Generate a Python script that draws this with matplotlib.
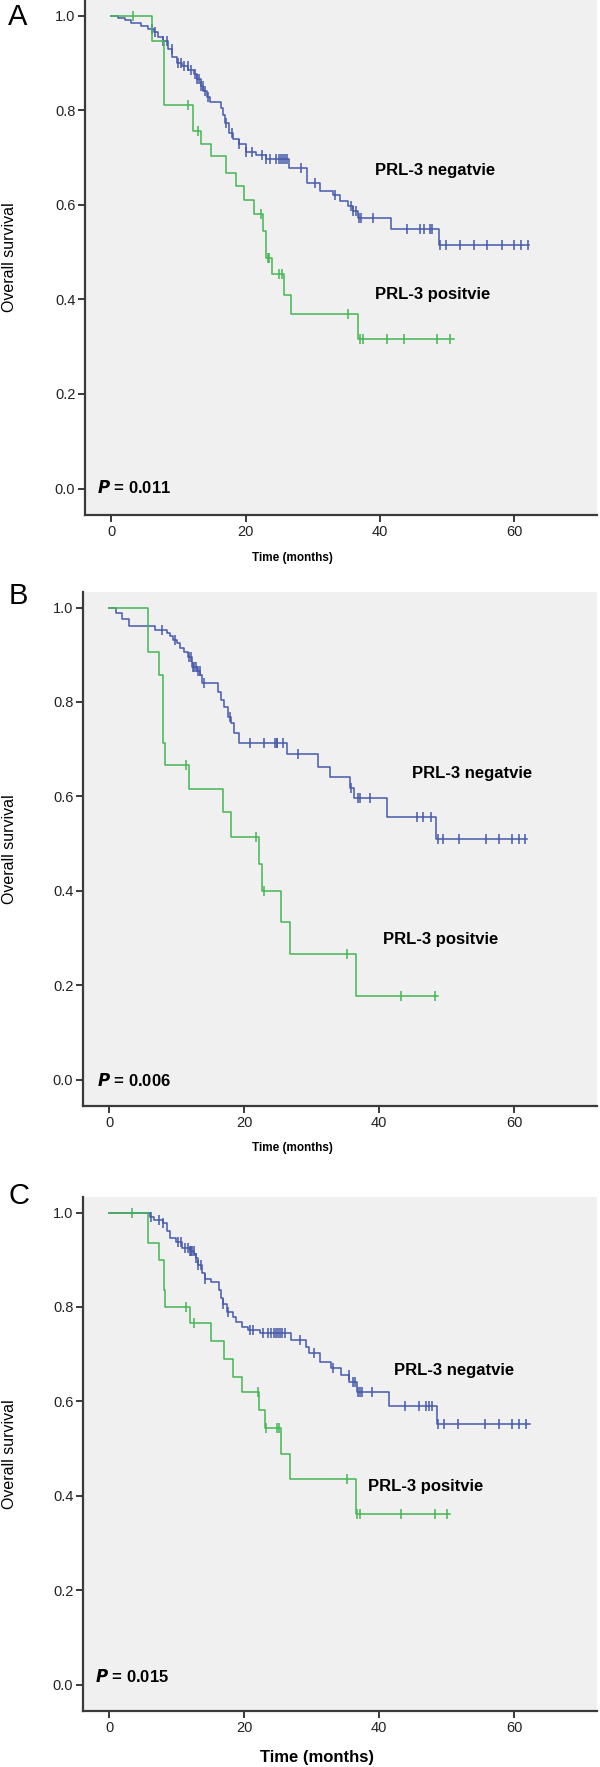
import numpy as np
import matplotlib.pyplot as plt

plt.rcParams['font.family'] = ['Liberation Sans', 'DejaVu Sans']

BLUE = '#4659ab'
GREEN = '#45b653'

# ---- panel A ----
a_neg_t = [1.0, 2.0, 3.0, 4.5, 5.5, 6.3, 7.0, 7.7, 8.4, 9.1, 9.8, 10.6, 11.5, 12.3, 12.8,
           13.3, 13.7, 14.2, 14.7, 16.3, 16.6, 16.9, 17.5, 18.2, 19.0, 20.0, 21.5, 23.0,
           26.5, 29.1, 31.1, 33.0, 34.0, 35.3, 36.0, 36.7, 41.6, 48.8]
a_neg_s = [0.995, 0.99, 0.985, 0.979, 0.972, 0.965, 0.955, 0.947, 0.93, 0.912, 0.9, 0.893,
           0.885, 0.877, 0.865, 0.852, 0.84, 0.828, 0.818, 0.805, 0.79, 0.772, 0.752, 0.74,
           0.729, 0.712, 0.705, 0.697, 0.677, 0.646, 0.629, 0.62, 0.608, 0.598, 0.587, 0.572,
           0.549, 0.515]
a_neg_end = 62.2
a_neg_cens = [6.0, 6.5, 7.7, 8.3, 9.0, 9.9, 10.4, 10.9, 11.4, 11.9, 12.4, 12.8, 13.0, 13.3,
              13.6, 14.0, 14.4, 17.1, 18.0, 19.0, 20.0, 21.0, 22.4, 23.0, 23.7, 24.5, 24.9,
              25.2, 25.5, 25.8, 26.1, 28.2, 30.4, 33.3, 35.7, 36.0, 36.4, 36.9, 37.2, 38.9,
              44.0, 46.0, 46.6, 47.5, 47.8, 49.0, 49.9, 51.9, 54.0, 55.9, 58.1, 60.0, 61.0, 62.0]
a_pos_t = [6.0, 7.8, 12.1, 13.4, 14.9, 17.1, 18.6, 19.8, 21.2, 22.6, 23.0, 23.9, 25.7, 26.8, 36.7]
a_pos_s = [0.947, 0.811, 0.756, 0.729, 0.703, 0.667, 0.64, 0.61, 0.58, 0.545, 0.488, 0.453,
           0.41, 0.368, 0.316]
a_pos_end = 51.0
a_pos_cens = [3.2, 11.4, 12.9, 22.3, 23.3, 23.5, 24.9, 25.4, 35.3, 37.0, 37.5, 41.1, 43.6,
              48.5, 50.4]

# ---- panel B ----
b_neg_t = [1.0, 1.9, 2.9, 6.8, 8.6, 9.0, 9.5, 10.0, 10.5, 11.0, 11.6, 12.3, 13.0, 13.5, 13.8,
           16.1, 16.5, 17.0, 17.6, 18.0, 18.5, 19.3, 26.3, 31.0, 32.7, 35.7, 36.3, 41.2, 48.5]
b_neg_s = [0.989, 0.975, 0.96, 0.953, 0.947, 0.94, 0.932, 0.924, 0.915, 0.905, 0.896, 0.875,
           0.866, 0.858, 0.841, 0.822, 0.805, 0.79, 0.769, 0.756, 0.735, 0.714, 0.689, 0.663,
           0.64, 0.618, 0.597, 0.557, 0.51]
b_neg_end = 61.9
b_neg_cens = [7.8, 9.8, 11.8, 12.1, 12.4, 12.6, 12.9, 13.2, 13.4, 14.0, 17.9, 20.8, 23.0, 24.6,
              24.8, 24.9, 25.8, 28.0, 35.9, 36.8, 37.2, 38.7, 45.6, 46.5, 47.7, 48.8, 49.5,
              51.8, 55.8, 57.7, 59.7, 60.7, 61.7]
b_pos_t = [5.8, 7.3, 7.9, 8.3, 11.8, 16.8, 18.0, 22.2, 22.6, 25.5, 26.8, 36.5]
b_pos_s = [0.905, 0.857, 0.714, 0.667, 0.615, 0.566, 0.513, 0.456, 0.40, 0.333, 0.265, 0.176]
b_pos_end = 48.7
b_pos_cens = [11.3, 21.8, 23.0, 35.3, 43.3, 48.3]

# ---- panel C ----
c_neg_t = [6.0, 6.6, 7.9, 8.5, 9.0, 9.9, 10.8, 11.9, 12.6, 12.8, 13.1, 13.7, 14.2, 15.1, 16.3,
           16.6, 16.8, 17.4, 18.3, 18.8, 19.7, 20.5, 22.3, 26.9, 29.1, 29.6, 31.2, 32.9, 34.3,
           35.6, 36.7, 41.4, 48.6]
c_neg_s = [0.99, 0.985, 0.977, 0.962, 0.947, 0.937, 0.926, 0.919, 0.912, 0.903, 0.888, 0.873,
           0.86, 0.853, 0.835, 0.82, 0.807, 0.79, 0.779, 0.768, 0.758, 0.751, 0.745, 0.73,
           0.716, 0.702, 0.684, 0.67, 0.656, 0.642, 0.62, 0.591, 0.552]
c_neg_end = 62.3
c_neg_cens = [6.2, 7.4, 7.9, 10.2, 10.6, 11.2, 11.6, 11.9, 12.1, 12.3, 12.5, 12.8, 13.2, 13.6,
              14.2, 16.8, 17.6, 20.8, 21.3, 22.8, 23.5, 24.0, 24.4, 24.7, 25.0, 25.3, 25.6,
              26.1, 28.3, 30.3, 33.2, 35.5, 36.1, 36.4, 36.9, 37.2, 37.5, 38.9, 43.9, 45.9,
              47.0, 47.4, 47.8, 48.8, 49.6, 51.7, 55.7, 57.7, 59.7, 60.8, 61.8]
c_pos_t = [5.8, 7.3, 8.1, 8.2, 12.0, 15.1, 17.0, 18.3, 19.7, 22.2, 23.1, 25.5, 26.8, 36.5]
c_pos_s = [0.936, 0.90, 0.835, 0.80, 0.766, 0.727, 0.69, 0.652, 0.62, 0.582, 0.544, 0.489,
           0.436, 0.362]
c_pos_end = 50.5
c_pos_cens = [3.3, 11.4, 12.5, 22.0, 23.3, 24.8, 25.2, 35.2, 36.7, 37.1, 43.2, 48.3, 50.0]

p_values = ['0.011', '0.006', '0.015']
panel_letters = ['A', 'B', 'C']
x_ticks = [0, 20, 40, 60]
y_ticks = [0.0, 0.2, 0.4, 0.6, 0.8, 1.0]


def km(ax, t, s, end, cens, color):
    xs = [0] + t + [end]
    ys = [1.0] + s + [s[-1]]
    ax.step(xs, ys, where='post', color=color, lw=1.1)
    idx = np.searchsorted(t, cens, side='right')
    cy = [1.0 if i == 0 else s[i - 1] for i in idx]
    ax.plot(cens, cy, ls='none', marker='|', ms=7.5, mew=1.1, color=color)


W, H = 600, 1767
fig = plt.figure(figsize=(W / 100, H / 100), dpi=100)

# pixel layout: (left, top, bottom)
boxes = [(85, 0, 515), (83, 592, 1106), (83, 1197, 1711)]
neg_lbl = [(375, 170), (412, 773), (394, 1370)]
pos_lbl = [(375, 295), (383, 939), (368, 1487)]
p_pos = [(97, 487), (97, 1080), (95, 1676)]
time_lbl = [(292, 558, 8.5), (292, 1148, 8.5), (317, 1757, 12)]
letter_pos = [(18, 17), (18, 596), (19, 1196)]

panels = [
    (a_neg_t, a_neg_s, a_neg_end, a_neg_cens, a_pos_t, a_pos_s, a_pos_end, a_pos_cens),
    (b_neg_t, b_neg_s, b_neg_end, b_neg_cens, b_pos_t, b_pos_s, b_pos_end, b_pos_cens),
    (c_neg_t, c_neg_s, c_neg_end, c_neg_cens, c_pos_t, c_pos_s, c_pos_end, c_pos_cens),
]

for k, d in enumerate(panels):
    l, top, bot = boxes[k]
    ax = fig.add_axes([l / W, 1 - bot / H, (597 - l) / W, (bot - top) / H])
    ax.set_facecolor('#f0f0f0')
    km(ax, d[0], d[1], d[2], d[3], BLUE)
    km(ax, d[4], d[5], d[6], d[7], GREEN)
    ax.set_xlim(-3.9, 72.3)
    ax.set_ylim(-0.056, 1.033)
    ax.set_xticks(x_ticks)
    ax.set_yticks(y_ticks)
    ax.set_yticklabels(['%.1f' % v for v in y_ticks])
    for sp in ['top', 'right']:
        ax.spines[sp].set_visible(False)
    for sp in ['left', 'bottom']:
        ax.spines[sp].set_color('#3a3a3a')
        ax.spines[sp].set_linewidth(1.6)
    ax.tick_params(direction='out', length=5, width=1.4, color='#3a3a3a',
                   labelsize=10.5, labelcolor='#222222', pad=2)

    fig.text(neg_lbl[k][0] / W, 1 - neg_lbl[k][1] / H, 'PRL-3 negatvie',
             fontsize=12, fontweight='bold', va='center', ha='left')
    fig.text(pos_lbl[k][0] / W, 1 - pos_lbl[k][1] / H, 'PRL-3 positvie',
             fontsize=12, fontweight='bold', va='center', ha='left')
    fig.text(p_pos[k][0] / W, 1 - p_pos[k][1] / H,
             r'$\bfit{P}$' + ' = ' + p_values[k],
             fontsize=12, fontweight='bold', va='center', ha='left')
    tx, ty, ts = time_lbl[k]
    fig.text(tx / W, 1 - ty / H, 'Time (months)', fontsize=ts, fontweight='bold',
             ha='center', va='center')
    fig.text(10 / W, 1 - (top + bot) / 2 / H, 'Overall survival', rotation=90,
             fontsize=11.5, ha='center', va='center')
    fig.text(letter_pos[k][0] / W, 1 - letter_pos[k][1] / H, panel_letters[k],
             fontsize=21, ha='center', va='center')

fig.savefig('out.png', dpi=100, facecolor='white')
